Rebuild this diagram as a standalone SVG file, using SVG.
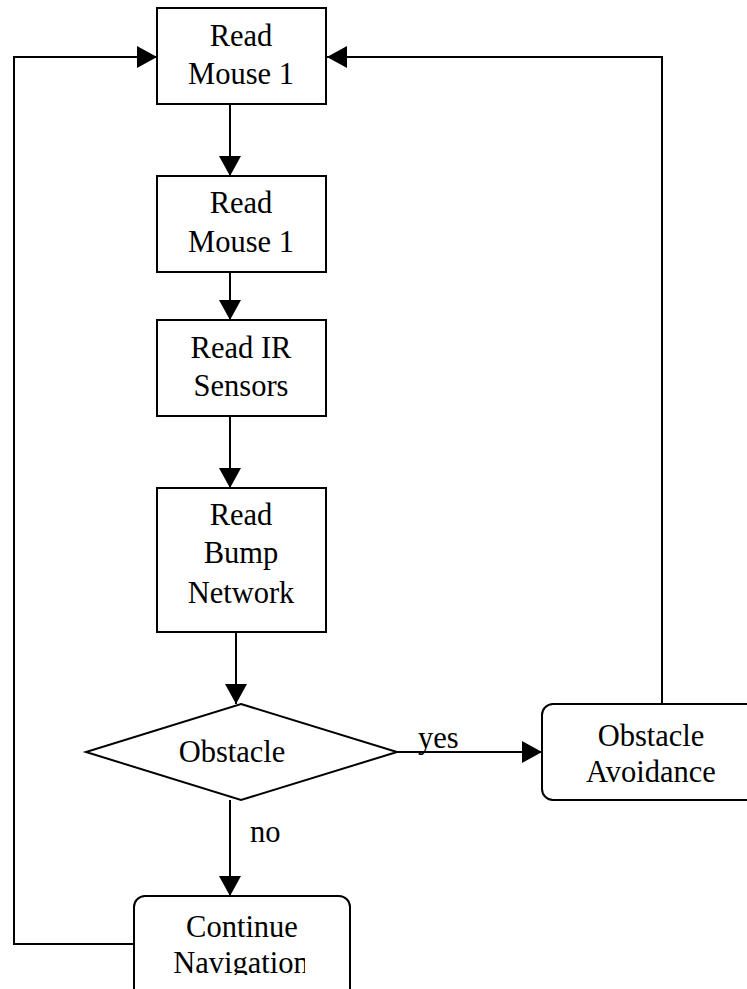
<svg xmlns="http://www.w3.org/2000/svg" width="747" height="989" viewBox="0 0 747 989">
  <style>
    .shape { fill: #ffffff; stroke: #000000; stroke-width: 2; }
    .wire { fill: none; stroke: #000000; stroke-width: 2; }
    .label { font-family: "Liberation Serif", "Times New Roman", serif; font-size: 30.5px; fill: #000000; text-anchor: middle; }
    .edge-label { font-family: "Liberation Serif", "Times New Roman", serif; font-size: 30.5px; fill: #000000; }
  </style>
  <defs>
    <marker id="arrow" viewBox="0 0 20 22" refX="20" refY="11" markerWidth="20" markerHeight="22" markerUnits="userSpaceOnUse" orient="auto">
      <path d="M0,0 L20,11 L0,22 Z" fill="#000000"/>
    </marker>
    <!-- the second line of the bottom box is cut off by its text frame -->
    <clipPath id="navClip">
      <rect x="130" y="900" width="175" height="75"/>
    </clipPath>
  </defs>
  <rect width="747" height="989" fill="#ffffff"/>

  <g id="connectors">
    <line class="wire" x1="230" y1="104" x2="230" y2="176" marker-end="url(#arrow)"/>
    <line class="wire" x1="230" y1="272" x2="230" y2="320" marker-end="url(#arrow)"/>
    <line class="wire" x1="230" y1="416" x2="230" y2="488" marker-end="url(#arrow)"/>
    <line class="wire" x1="236" y1="632" x2="236" y2="704" marker-end="url(#arrow)"/>
    <line class="wire" x1="397" y1="752" x2="542" y2="752" marker-end="url(#arrow)"/>
    <line class="wire" x1="230" y1="800" x2="230" y2="896" marker-end="url(#arrow)"/>
    <polyline class="wire" points="662,704 662,57 327,57" marker-end="url(#arrow)"/>
    <polyline class="wire" points="134,944 14,944 14,57 157,57" marker-end="url(#arrow)"/>
    <text class="edge-label" x="418" y="748">yes</text>
    <text class="edge-label" x="250" y="842">no</text>
  </g>

  <g id="read-mouse-1a">
    <rect class="shape" x="157" y="8" width="169" height="96"/>
    <text class="label" x="241" y="46">Read</text>
    <text class="label" x="241" y="84">Mouse 1</text>
  </g>

  <g id="read-mouse-1b">
    <rect class="shape" x="157" y="176" width="169" height="96"/>
    <text class="label" x="241" y="213">Read</text>
    <text class="label" x="241" y="252">Mouse 1</text>
  </g>

  <g id="read-ir">
    <rect class="shape" x="157" y="320" width="169" height="96"/>
    <text class="label" x="241" y="358">Read IR</text>
    <text class="label" x="241" y="396">Sensors</text>
  </g>

  <g id="read-bump">
    <rect class="shape" x="157" y="488" width="169" height="144"/>
    <text class="label" x="241" y="525">Read</text>
    <text class="label" x="241" y="563">Bump</text>
    <text class="label" x="241" y="603">Network</text>
  </g>

  <g id="obstacle-decision">
    <polygon class="shape" points="241,704 397,752 241,800 86,752"/>
    <text class="label" x="232" y="762">Obstacle</text>
  </g>

  <g id="obstacle-avoidance">
    <rect class="shape" x="542" y="704" width="230" height="96" rx="11" ry="11"/>
    <text class="label" x="651" y="746">Obstacle</text>
    <text class="label" x="651" y="782">Avoidance</text>
  </g>

  <g id="continue-navigation">
    <rect class="shape" x="134" y="896" width="216" height="110" rx="11" ry="11"/>
    <text class="label" x="242" y="937">Continue</text>
    <text class="label" x="241" y="973" clip-path="url(#navClip)">Navigation</text>
  </g>
</svg>
